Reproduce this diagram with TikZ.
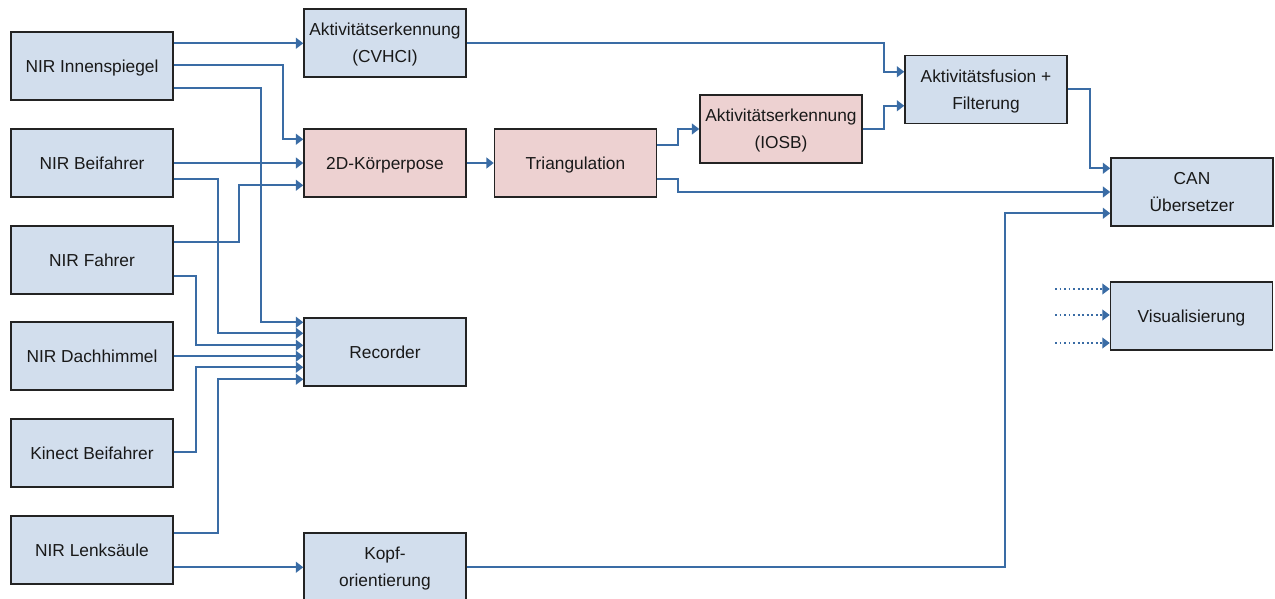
\documentclass[tikz,border=0pt]{standalone}
\usepackage{fontspec}
\setmainfont{Liberation Sans}
\usetikzlibrary{arrows.meta,calc}
\definecolor{boxblue}{RGB}{210,222,237}
\definecolor{boxpink}{RGB}{237,209,209}
\definecolor{linec}{RGB}{58,108,165}
\definecolor{borderc}{RGB}{35,35,35}
\definecolor{txtc}{RGB}{25,25,25}
\tikzset{
  box/.style={draw=borderc, line width=1.1pt, minimum width=121.5pt, minimum height=51pt,
    inner sep=0pt, align=center, text=txtc, font=\fontsize{13}{20.5}\selectfont},
  oneline/.style={text height=11.7pt, text depth=2.3pt},
  twoline/.style={text depth=0pt},
  bluebox/.style={box, fill=boxblue},
  pinkbox/.style={box, fill=boxpink},
  conn/.style={draw=linec, line width=1.4pt, -{Triangle[length=5.5pt,width=8pt]}},
  dotconn/.style={conn, dotted, line width=1.1pt},
}
\begin{document}
\begin{tikzpicture}[x=0.75pt,y=-0.75pt]
\useasboundingbox (0,0) rectangle (1275,599);
% left column
\node[bluebox,oneline] (inn)  at (92,66)  {NIR Innenspiegel};
\node[bluebox,oneline] (bei)  at (92,163) {NIR Beifahrer};
\node[bluebox,oneline] (fah)  at (92,260) {NIR Fahrer};
\node[bluebox,oneline] (dach) at (92,356) {NIR Dachhimmel};
\node[bluebox,oneline] (kin)  at (92,453) {Kinect Beifahrer};
\node[bluebox,oneline] (lenk) at (92,550) {NIR Lenksäule};
% middle column
\node[bluebox,twoline] (cvhci) at (385,43)  {Aktivitätserkennung\\(CVHCI)};
\node[pinkbox,oneline] (pose)  at (385,163) {2D-Körperpose};
\node[bluebox,oneline] (rec)   at (385,352) {Recorder};
\node[bluebox,twoline] (kopf)  at (385,567) {Kopf-\\orientierung};
% right part
\node[pinkbox,oneline] (tri)  at (575.5,163) {Triangulation};
\node[pinkbox,twoline] (iosb) at (781,129)   {Aktivitätserkennung\\(IOSB)};
\node[bluebox,twoline] (fus)  at (986,89.5)  {Aktivitätsfusion +\\Filterung};
\node[bluebox] (can)  at (1192,192)  {CAN\\Übersetzer};
\node[bluebox,oneline] (vis)  at (1191.5,316) {Visualisierung};

% connectors from NIR Innenspiegel
\draw[conn] ($(inn.north east)+(0,12)$) coordinate (s1) -- (s1 -| cvhci.west);
\draw[conn] ($(inn.north east)+(0,34)$) -- ++(109,0) |- ($(pose.north west)+(0,11)$);
\draw[conn] ($(inn.north east)+(0,57)$) -- ++(87,0) |- ($(rec.north west)+(0,5)$);
% NIR Beifahrer
\draw[conn] (bei.east) -- (pose.west);
\draw[conn] ($(bei.north east)+(0,51)$) -- ++(44,0) |- ($(rec.north west)+(0,16)$);
% NIR Fahrer
\draw[conn] ($(fah.north east)+(0,17)$) -- ++(65,0) |- ($(pose.north west)+(0,57)$);
\draw[conn] ($(fah.north east)+(0,51)$) -- ++(22,0) |- ($(rec.north west)+(0,28)$);
% NIR Dachhimmel
\draw[conn] ($(dach.north east)+(0,35)$) coordinate (s8) -- (s8 -| rec.west);
% Kinect Beifahrer
\draw[conn] ($(kin.north east)+(0,34)$) -- ++(22,0) |- ($(rec.north west)+(0,50)$);
% NIR Lenksaeule
\draw[conn] ($(lenk.north east)+(0,18)$) -- ++(44,0) |- ($(rec.north west)+(0,62)$);
\draw[conn] ($(lenk.north east)+(0,52)$) coordinate (s11) -- (s11 -| kopf.west);
% processing chain
\draw[conn] (pose.east) -- (tri.west);
\draw[conn] ($(tri.north east)+(0,17)$) -- ++(21,0) |- (iosb.west);
\draw[conn] ($(tri.north east)+(0,51)$) -- ++(21,0) |- (can.west);
\draw[conn] ($(cvhci.north east)+(0,35)$) -- ++(417,0) |- ($(fus.north west)+(0,17)$);
\draw[conn] (iosb.east) -- ++(21,0) |- ($(fus.north west)+(0,51)$);
\draw[conn] ($(fus.north east)+(0,34)$) -- ++(22,0) |- ($(can.north west)+(0,11)$);
\draw[conn] ($(kopf.north east)+(0,35)$) -- ++(538,0) |- ($(can.north west)+(0,56)$);
% dotted inputs of Visualisierung
\coordinate (v1) at (1055,289);
\coordinate (v2) at (1055,315);
\coordinate (v3) at (1055,343);
\draw[dotconn] (v1) -- (v1 -| vis.west);
\draw[dotconn] (v2) -- (v2 -| vis.west);
\draw[dotconn] (v3) -- (v3 -| vis.west);
\end{tikzpicture}
\end{document}
